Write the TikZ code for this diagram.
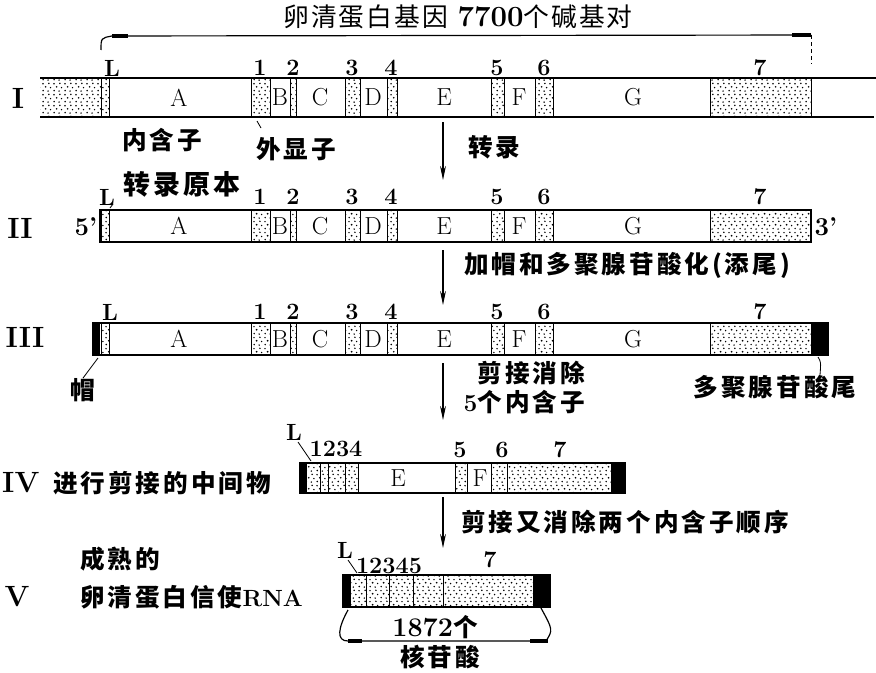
\documentclass[tikz,border=0pt]{standalone}
\usepackage{fontspec}
\newfontfamily\cjk[LetterSpace=12]{Noto Sans CJK SC}
\newfontfamily\cjkt[LetterSpace=8]{Noto Sans CJK SC}
\usetikzlibrary{arrows.meta,patterns}
\pgfdeclarepatternformonly{speckle}{\pgfpointorigin}{\pgfpoint{9pt}{9pt}}{\pgfpoint{9pt}{9pt}}{%
  \pgfpathcircle{\pgfpoint{1.0pt}{1.3pt}}{0.75pt}
  \pgfpathcircle{\pgfpoint{5.4pt}{0.8pt}}{0.7pt}
  \pgfpathcircle{\pgfpoint{3.2pt}{4.6pt}}{0.8pt}
  \pgfpathcircle{\pgfpoint{7.6pt}{3.9pt}}{0.7pt}
  \pgfpathcircle{\pgfpoint{0.9pt}{7.3pt}}{0.7pt}
  \pgfpathcircle{\pgfpoint{6.1pt}{7.6pt}}{0.75pt}
  \pgfusepath{fill}}
% exons and letters shared by rows I, II, III
\def\generow#1#2#3#4{%
  \draw[exn] (101,#1) rectangle (109,#2);
  \draw[exn] (251,#1) rectangle (270,#2);
  \draw[exn] (290,#1) rectangle (296,#2);
  \draw[exn] (345,#1) rectangle (360,#2);
  \draw[exn] (387,#1) rectangle (397,#2);
  \draw[exn] (491,#1) rectangle (504,#2);
  \draw[exn] (535,#1) rectangle (553,#2);
  \draw[exn] (710,#1) rectangle (811,#2);
  \node[seg] (A#3) at (179,{(#1+#2)/2}) {A};
  \node[seg] (B#3) at (280,{(#1+#2)/2}) {B};
  \node[seg] (C#3) at (320,{(#1+#2)/2}) {C};
  \node[seg] (D#3) at (373,{(#1+#2)/2}) {D};
  \node[seg] (E#3) at (444,{(#1+#2)/2}) {E};
  \node[seg] (F#3) at (519,{(#1+#2)/2}) {F};
  \node[seg] (G#3) at (633,{(#1+#2)/2}) {G};
  \node[num] (one#3) at (260,#4) {1};
  \node[num] (two#3) at (293,#4) {2};
  \node[num] (three#3) at (352,#4) {3};
  \node[num] (four#3) at (391,#4) {4};
  \node[num] (five#3) at (497,#4) {5};
  \node[num] (six#3) at (544,#4) {6};
  \node[num] (seven#3) at (760,#4) {7};
}

\begin{document}
\begin{tikzpicture}[x=0.3mm, y=-0.3mm,
  bar/.style={line width=1.4pt},
  exn/.style={draw, line width=0.6pt, pattern=speckle},
  num/.style={font=\bfseries\fontsize{20}{20}\selectfont, inner sep=0pt},
  seg/.style={font=\fontsize{21}{21}\selectfont, inner sep=0pt},
  roman/.style={font=\bfseries\fontsize{25}{25}\selectfont, inner sep=0pt},
  zh/.style={font=\cjk\bfseries\fontsize{21}{21}\selectfont, inner sep=0pt},
  flow/.style={line width=1pt, -{Stealth[length=12pt,width=5pt]}},
  lead/.style={line width=0.7pt}]
	%%%%% START %%%%%
	\useasboundingbox (0,0) rectangle (876,673);

	\node[font=\cjkt\fontsize{22}{22}\selectfont, inner sep=0pt] (title) at (458,17)
	  {卵清蛋白基因\hspace{8pt}{\rmfamily\bfseries\fontsize{25}{25}\selectfont 7700}个碱基对};
	\coordinate (brL) at (101,50);
	\coordinate (brR) at (811,64);
	\draw[line width=1pt] (brL) .. controls (101,38) .. (112,36) -- (811,35);
	\draw[line width=2.6pt] (112,36) -- (128,36);
	\draw[line width=2.6pt] (792,35) -- (811,35);
	\draw[line width=0.8pt, dashed] (811,35) -- (brR);

	% row I : gene
	\fill[pattern=speckle] (40,78) rectangle (101,117);
	\generow{78}{117}{I}{68}
	\draw[bar] (40,78) -- (876,78);
	\draw[bar] (40,117) -- (874,117);
	\node[roman] (rI) at (18,98) {I};
	\node[num] (LI) at (112,68) {L};
	\node[zh] (intron) at (162,140) {内含子};
	\node[zh] (exon) at (296,149) {外显子};
	\draw[lead] (257,121) -- (261,128);

	\coordinate (t1) at (443,122);
	\coordinate (t1e) at (443,180);
	\draw[flow] (t1) -- (t1e);
	\node[zh, anchor=west] (tr) at (468,147) {转录};
	\node[zh, font=\cjk\bfseries\fontsize{23}{23}\selectfont] (prim) at (182,184) {转录原本};

	% row II : primary transcript
	\generow{210}{242}{II}{197}
	\draw[bar] (100,210) rectangle (811,242);
	\node[roman] (rII) at (20,228) {II};
	\node[num, font=\bfseries\fontsize{22}{22}\selectfont] (p5) at (86,227) {5’};
	\node[num, font=\bfseries\fontsize{22}{22}\selectfont] (p3) at (826,227) {3’};
	\node[num] (LII) at (107,197) {L};
	\draw[lead] (113,204) -- (110,208);

	\coordinate (t2) at (443,250);
	\coordinate (t2e) at (443,305);
	\draw[flow] (t2) -- (t2e);
	\node[zh, anchor=west] (cap) at (464,265) {加帽和多聚腺苷酸化(添尾)};

	% row III : capped and tailed
	\generow{323}{355}{III}{312}
	\fill (93,323) rectangle (100,355);
	\fill (811,323) rectangle (828,355);
	\draw[bar] (93,323) rectangle (828,355);
	\node[roman] (rIII) at (25,337) {III};
	\node[num] (LIII) at (110,312) {L};
	\node[zh] (hat) at (83,390) {帽};
	\node[zh] (tail) at (775,387) {多聚腺苷酸尾};
	\coordinate (hatp) at (98,358);
	\coordinate (tailp) at (818,357);
	\draw[lead] (hatp) -- (hat.north);
	\draw[lead] (tailp) .. controls (821,362) .. (tail.north -| 820,0);

	\coordinate (t3) at (443,363);
	\coordinate (t3e) at (443,420);
	\draw[flow] (t3) -- (t3e);
	\node[zh, anchor=east] (spl1) at (585,373) {剪接消除};
	\node[zh, anchor=east] (spl2) at (585,402) {{\rmfamily\bfseries 5}个内含子};

	% row IV : splicing intermediate
	\draw[exn] (306,463) rectangle (320,493);
	\draw[exn] (320,463) rectangle (328,493);
	\draw[exn] (328,463) rectangle (345,493);
	\draw[exn] (345,463) rectangle (358,493);
	\draw[exn] (455,463) rectangle (467,493);
	\draw[exn] (491,463) rectangle (507,493);
	\draw[exn] (507,463) rectangle (611,493);
	\fill (300,463) rectangle (306,493);
	\fill (611,463) rectangle (625,493);
	\draw[bar] (300,463) rectangle (625,493);
	\node[seg] (EIV) at (398,478) {E};
	\node[seg] (FIV) at (480,478) {F};
	\node[num] (LIV) at (294,432) {L};
	\node[num] (n1234) at (336,449) {1234};
	\node[num] (fiveIV) at (460,450) {5};
	\node[num] (sixIV) at (502,450) {6};
	\node[num] (sevenIV) at (560,450) {7};
	\draw[lead] (298,442) -- (311,461);
	\node[roman, anchor=west] (rIV) at (2,483) {IV};
	\node[zh] (inter) at (162,483) {进行剪接的中间物};

	\coordinate (t4) at (443,497);
	\coordinate (t4e) at (443,548);
	\draw[flow] (t4) -- (t4e);
	\node[zh, anchor=west] (spl3) at (461,522) {剪接又消除两个内含子顺序};

	% row V : mature mRNA
	\draw[exn] (350,575) rectangle (366,607);
	\draw[exn] (366,575) rectangle (389,607);
	\draw[exn] (389,575) rectangle (413,607);
	\draw[exn] (413,575) rectangle (443,607);
	\draw[exn] (443,575) rectangle (533,607);
	\fill (343,575) rectangle (350,607);
	\fill (533,575) rectangle (550,607);
	\draw[bar] (343,575) rectangle (550,607);
	\node[num] (LV) at (345,550) {L};
	\node[num] (n12345) at (389,566) {12345};
	\node[num] (sevenV) at (490,560) {7};
	\draw[lead] (348,560) -- (357,573);
	\node[roman] (rV) at (17,597) {V};
	\node[zh, anchor=west] (mat1) at (80,559) {成熟的};
	\node[zh, anchor=west] (mat2) at (80,597) {卵清蛋白信使{\rmfamily\bfseries\fontsize{20}{20}\selectfont RNA}};

	\coordinate (b5L) at (348,610);
	\coordinate (b5R) at (541,608);
	\draw[line width=1pt] (b5L) .. controls (338,628) and (336,641) .. (348,641) -- (546,641) .. controls (553,630) .. (b5R);
	\draw[line width=2.6pt] (348,641) -- (362,641);
	\draw[line width=2.6pt] (530,641) -- (548,641);
	\node[zh, fill=white, inner xsep=2pt] (len) at (435,627) {{\rmfamily\bfseries\fontsize{23}{23}\selectfont 1872}个};
	\node[zh] (nuc) at (440,657) {核苷酸};
	%%%%% END %%%%%
\end{tikzpicture}
\end{document}
